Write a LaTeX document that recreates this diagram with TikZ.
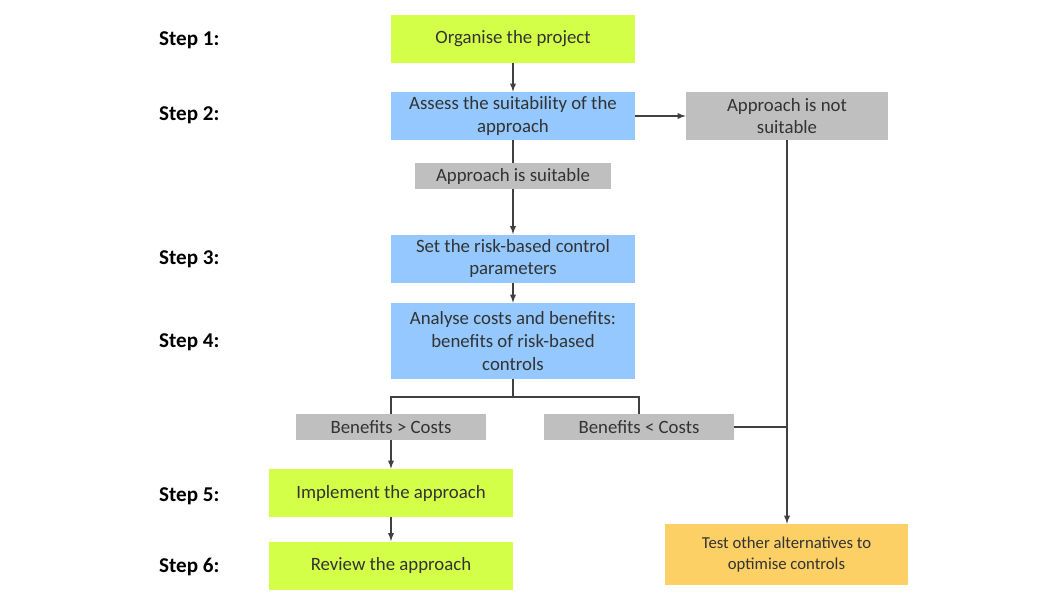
\documentclass[tikz,border=0pt]{standalone}
\usepackage{fontspec}
\setmainfont{Carlito}
\definecolor{stepgreen}{RGB}{212,255,72}
\definecolor{stepblue}{RGB}{148,200,255}
\definecolor{outgrey}{RGB}{191,191,191}
\definecolor{altorange}{RGB}{253,208,102}
\tikzset{
  box/.style={minimum width=4.88cm, minimum height=0.96cm, align=center, inner sep=0pt,
    font=\fontsize{10.7}{13}\selectfont, text=black!80},
  outcome/.style={box, fill=outgrey, minimum width=3.8cm, minimum height=0.52cm},
  steplabel/.style={anchor=west, font=\bfseries\fontsize{12}{14}\selectfont},
  link/.style={draw=black!75, line width=0.6pt},
  arr/.style={link, -latex}
}
\begin{document}
\begin{tikzpicture}[x=0.02cm, y=-0.02cm]
  \useasboundingbox (0,0) rectangle (1039,599);

  % step labels
  \node[steplabel] (s1) at (153,40) {Step 1:};
  \node[steplabel] (s2) at (153,115) {Step 2:};
  \node[steplabel] (s3) at (153,259) {Step 3:};
  \node[steplabel] (s4) at (153,342) {Step 4:};
  \node[steplabel] (s5) at (153,496) {Step 5:};
  \node[steplabel] (s6) at (153,567) {Step 6:};

  % main flow
  \node[box, fill=stepgreen] (organise) at (513,39) {Organise the project};
  \node[box, fill=stepblue] (assess) at (513,116) {Assess the suitability of the\\approach};
  \node[outcome, minimum width=3.94cm] (suitable) at (513,176) {Approach is suitable};
  \node[outcome, minimum width=4.04cm, minimum height=0.96cm] (notsuitable) at (787,116) {Approach is not\\suitable};
  \node[box, fill=stepblue] (setparams) at (513,258.5) {Set the risk-based control\\parameters};
  \node[box, fill=stepblue, minimum height=1.52cm] (analyse) at (513,341) {Analyse costs and benefits:\\benefits of risk-based\\controls};
  \node[outcome] (bgreater) at (391,427) {Benefits > Costs};
  \node[outcome] (bless) at (639,427) {Benefits < Costs};
  \node[box, fill=stepgreen] (implement) at (391,493) {Implement the approach};
  \node[box, fill=stepgreen] (review) at (391,565.5) {Review the approach};
  \node[box, fill=altorange, minimum width=4.86cm, minimum height=1.22cm,
    font=\fontsize{9.5}{12}\selectfont] (testalt) at (786.5,554.5) {Test other alternatives to\\optimise controls};

  \coordinate (split) at (513,397);
  \coordinate (join) at (787,427);

  \draw[arr] (organise) -- (assess);
  \draw[arr] (assess) -- (notsuitable);
  \draw[link] (assess) -- (suitable);
  \draw[arr] (suitable) -- (setparams);
  \draw[arr] (setparams) -- (analyse);
  \draw[link] (analyse) -- (split);
  \draw[link] (split) -| (bgreater);
  \draw[link] (split) -| (bless);
  \draw[arr] (bgreater) -- (implement);
  \draw[arr] (implement) -- (review);
  \draw[arr] (notsuitable) -- (testalt.north -| notsuitable);
  \draw[link] (bless) -- (join);
\end{tikzpicture}
\end{document}
